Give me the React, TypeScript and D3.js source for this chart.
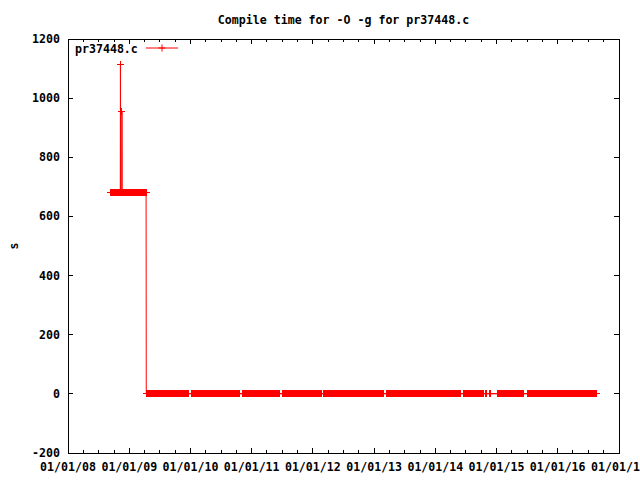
import React from "react";
import * as d3 from "d3";

// ---- data ----
// Runs of (roughly daily) measurements with a constant compile time
const runStart = [
  "2008-09-13", "2008-11-10", "2008-11-19",
  "2009-04-12", "2010-01-06", "2010-11-06", "2011-07-03", "2012-03-06", "2013-03-14",
  "2014-06-17", "2014-10-28", "2014-11-19", "2015-01-08", "2015-07-05", "2016-02-25",
];
const runEnd = [
  "2008-11-08", "2008-11-17", "2009-04-11",
  "2009-12-21", "2010-10-21", "2011-06-17", "2012-02-19", "2013-02-26", "2014-06-01",
  "2014-10-18", "2014-11-04", "2014-11-27", "2015-06-14", "2016-02-16", "2016-08-22",
];
const runValue = [680, 680, 680, 0, 0, 0, 0, 0, 0, 0, 0, 0, 0, 0, 0];
// isolated outliers
const spikeDates = ["2008-11-09", "2008-11-18"];
const spikeValues = [1115, 955];

const yTicks = [-200, 0, 200, 400, 600, 800, 1000, 1200];
const seriesName = "pr37448.c";
const titleText = "Compile time for -O -g for pr37448.c";
const yLabel = "s";

const parse = d3.utcParse("%Y-%m-%d");

function buildSeries() {
  const pts: { t: Date; v: number }[] = [];
  runStart.forEach((s, i) => {
    const days = d3.utcDay.range(parse(s)!, d3.utcDay.offset(parse(runEnd[i])!, 1));
    days.forEach((d) => pts.push({ t: d, v: runValue[i] }));
  });
  spikeDates.forEach((s, i) => pts.push({ t: parse(s)!, v: spikeValues[i] }));
  pts.sort((a, b) => +a.t - +b.t);
  return pts;
}

const W = 640, H = 480;
const L = 68, R = 619, T = 39, B = 453;
const FONT = "'DejaVu Sans Mono', 'Liberation Mono', monospace";
const FS = 11.6;
const MS = 3.5; // marker half-size

export default function App() {
  const data = buildSeries();
  const x = d3.scaleUtc().domain([new Date(Date.UTC(2008, 0, 1)), new Date(Date.UTC(2017, 0, 1))]).range([L, R]);
  const y = d3.scaleLinear().domain([-200, 1200]).range([B, T]);
  const fmt = d3.utcFormat("%m/%d/%y");
  const majors = d3.utcYear.range(new Date(Date.UTC(2008, 0, 1)), new Date(Date.UTC(2017, 0, 2)));
  const minors: Date[] = [];
  for (let i = 0; i < majors.length - 1; i++) {
    const a = +majors[i], b = +majors[i + 1];
    for (let k = 1; k < 4; k++) minors.push(new Date(a + ((b - a) * k) / 4));
  }
  const line = d3.line<{ t: Date; v: number }>().x((d) => x(d.t)).y((d) => y(d.v))(data) || "";
  let markers = "";
  data.forEach((d) => {
    const px = x(d.t), py = y(d.v);
    markers += `M${px - MS},${py}H${px + MS}M${px},${py - MS}V${py + MS}`;
  });
  const red = "#ff0000";
  const legY = 48;
  return (
    <svg width={W} height={H} style={{ position: "absolute", left: 0, top: 0, background: "#fff" }}>
      <rect x={0} y={0} width={W} height={H} fill="#fff" />
      <g stroke="#000" strokeWidth={1} shapeRendering="crispEdges">
        {yTicks.map((v) => (
          <g key={v}>
            <line x1={L} x2={L + 5} y1={y(v)} y2={y(v)} />
            <line x1={R} x2={R - 5} y1={y(v)} y2={y(v)} />
          </g>
        ))}
        {majors.map((d, i) => (
          <g key={i}>
            <line x1={x(d)} x2={x(d)} y1={B} y2={B - 5} />
            <line x1={x(d)} x2={x(d)} y1={T} y2={T + 5} />
          </g>
        ))}
        {minors.map((d, i) => (
          <g key={i}>
            <line x1={x(d)} x2={x(d)} y1={B} y2={B - 3} />
            <line x1={x(d)} x2={x(d)} y1={T} y2={T + 3} />
          </g>
        ))}
        <rect x={L} y={T} width={R - L} height={B - T} fill="none" />
      </g>
      <g fontFamily={FONT} fontSize={FS} fontWeight="bold" fill="#000">
        {yTicks.map((v) => (
          <text key={v} x={60} y={y(v) + 4} textAnchor="end">{v}</text>
        ))}
        {majors.map((d, i) => (
          <text key={i} x={x(d)} y={471} textAnchor="middle">{fmt(d)}</text>
        ))}
        <text x={(L + R) / 2} y={23.5} textAnchor="middle">{titleText}</text>
        <text transform="translate(18,246) rotate(-90)" textAnchor="middle">{yLabel}</text>
        <text x={75} y={52.5}>{seriesName}</text>
      </g>
      <g stroke={red} strokeWidth={1} fill="none">
        <path d={line} />
        <path d={markers} shapeRendering="crispEdges" />
        <line x1={146} x2={178} y1={legY} y2={legY} />
        <path d={`M${162 - MS},${legY}H${162 + MS}M162,${legY - MS}V${legY + MS}`} />
      </g>
    </svg>
  );
}
